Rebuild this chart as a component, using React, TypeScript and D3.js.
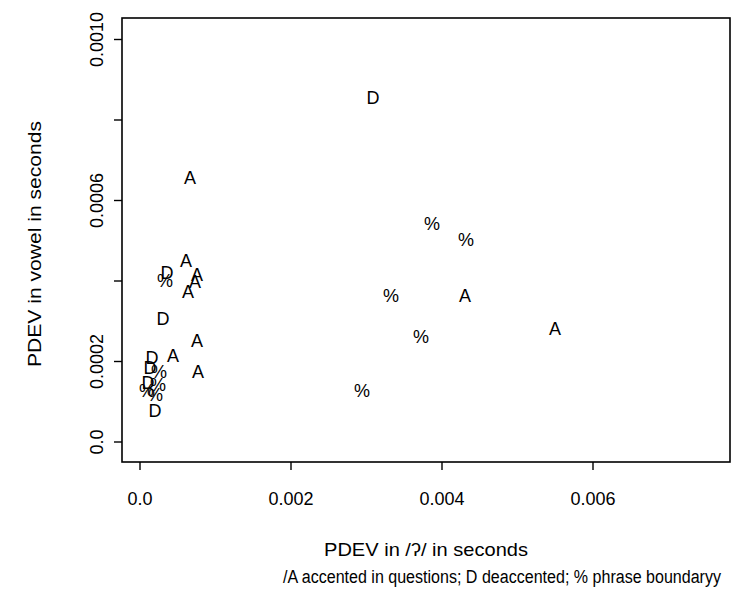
import React from "react";
import * as d3 from "d3";

// Data: label symbol, PDEV in glottal stop (x), PDEV in vowel (y)
const accentedX = [0.000662, 0.000609, 0.000755, 0.000728, 0.000636, 0.004305, 0.005497, 0.000755, 0.000437, 0.000768];
const accentedY = [0.000656, 0.00045, 0.000415, 0.000398, 0.000373, 0.000365, 0.000283, 0.000251, 0.000216, 0.000174];
const deaccentedX = [0.003086, 0.000358, 0.000305, 0.000159, 0.000132, 0.000106, 0.000199];
const deaccentedY = [0.000857, 0.00042, 0.000306, 0.000209, 0.000184, 0.000149, 0.000077];
const boundaryX = [0.003868, 0.004318, 0.000331, 0.003325, 0.003722, 0.00294, 0.000252, 0.000238, 0.000093, 0.000199];
const boundaryY = [0.000542, 0.000502, 0.0004, 0.000365, 0.000261, 0.000129, 0.000174, 0.000144, 0.000129, 0.000119];

const xTicks = [0, 0.002, 0.004, 0.006];
const xTickLabels = ["0.0", "0.002", "0.004", "0.006"];
const yTicks = [0, 0.0002, 0.0004, 0.0006, 0.0008, 0.001];
const yTickLabels = ["0.0", "0.0002", "", "0.0006", "", "0.0010"];

const xLabel = "PDEV in /ʔ/ in seconds";
const caption = "/A accented in questions; D deaccented; % phrase boundaryy";
const yLabel = "PDEV in vowel in seconds";

const W = 734;
const H = 590;
const left = 122;
const right = 730;
const top = 18;
const bottom = 462;
const font = "'Liberation Sans', Arial, Helvetica, sans-serif";

export default function App() {
  const x = d3.scaleLinear().domain([0, 0.002]).range([140, 291]);
  const y = d3.scaleLinear().domain([0, 0.001]).range([442, 39.5]);

  const points: { s: string; x: number; y: number }[] = [];
  accentedX.forEach((v, i) => points.push({ s: "A", x: v, y: accentedY[i] }));
  deaccentedX.forEach((v, i) => points.push({ s: "D", x: v, y: deaccentedY[i] }));
  boundaryX.forEach((v, i) => points.push({ s: "%", x: v, y: boundaryY[i] }));

  return (
    <svg width={W} height={H} style={{ position: "absolute", left: 0, top: 0, background: "#fff" }} fontFamily={font}>
      <rect x={0} y={0} width={W} height={H} fill="#fff" />
      <rect x={left} y={top} width={right - left} height={bottom - top} fill="none" stroke="#000" strokeWidth={1.6} />
      {xTicks.map((t, i) => (
        <g key={"xt" + i}>
          <line x1={x(t)} x2={x(t)} y1={bottom} y2={bottom + 8} stroke="#000" strokeWidth={1.4} />
          <text x={x(t)} y={bottom + 43} textAnchor="middle" fontSize={18} fill="#000">
            {xTickLabels[i]}
          </text>
        </g>
      ))}
      {yTicks.map((t, i) => (
        <g key={"yt" + i}>
          <line x1={left - 8} x2={left} y1={y(t)} y2={y(t)} stroke="#000" strokeWidth={1.4} />
          {yTickLabels[i] && (
            <text
              transform={`translate(${left - 19},${y(t)}) rotate(-90)`}
              textAnchor="middle"
              fontSize={18}
              fill="#000"
            >
              {yTickLabels[i]}
            </text>
          )}
        </g>
      ))}
      <text
        transform={`translate(41,244) rotate(-90)`}
        textAnchor="middle"
        fontSize={19}
        textLength={246}
        lengthAdjust="spacingAndGlyphs"
        fill="#000"
      >
        {yLabel}
      </text>
      <text x={426} y={556} textAnchor="middle" fontSize={19} textLength={204} lengthAdjust="spacingAndGlyphs" fill="#000">
        {xLabel}
      </text>
      <text x={502} y={583} textAnchor="middle" fontSize={18} textLength={438} lengthAdjust="spacingAndGlyphs" fill="#000">
        {caption}
      </text>
      {points.map((p, i) => (
        <text
          key={"p" + i}
          x={x(p.x)}
          y={y(p.y)}
          dy="0.36em"
          textAnchor="middle"
          fontSize={18}
          fill="#000"
        >
          {p.s}
        </text>
      ))}
    </svg>
  );
}
